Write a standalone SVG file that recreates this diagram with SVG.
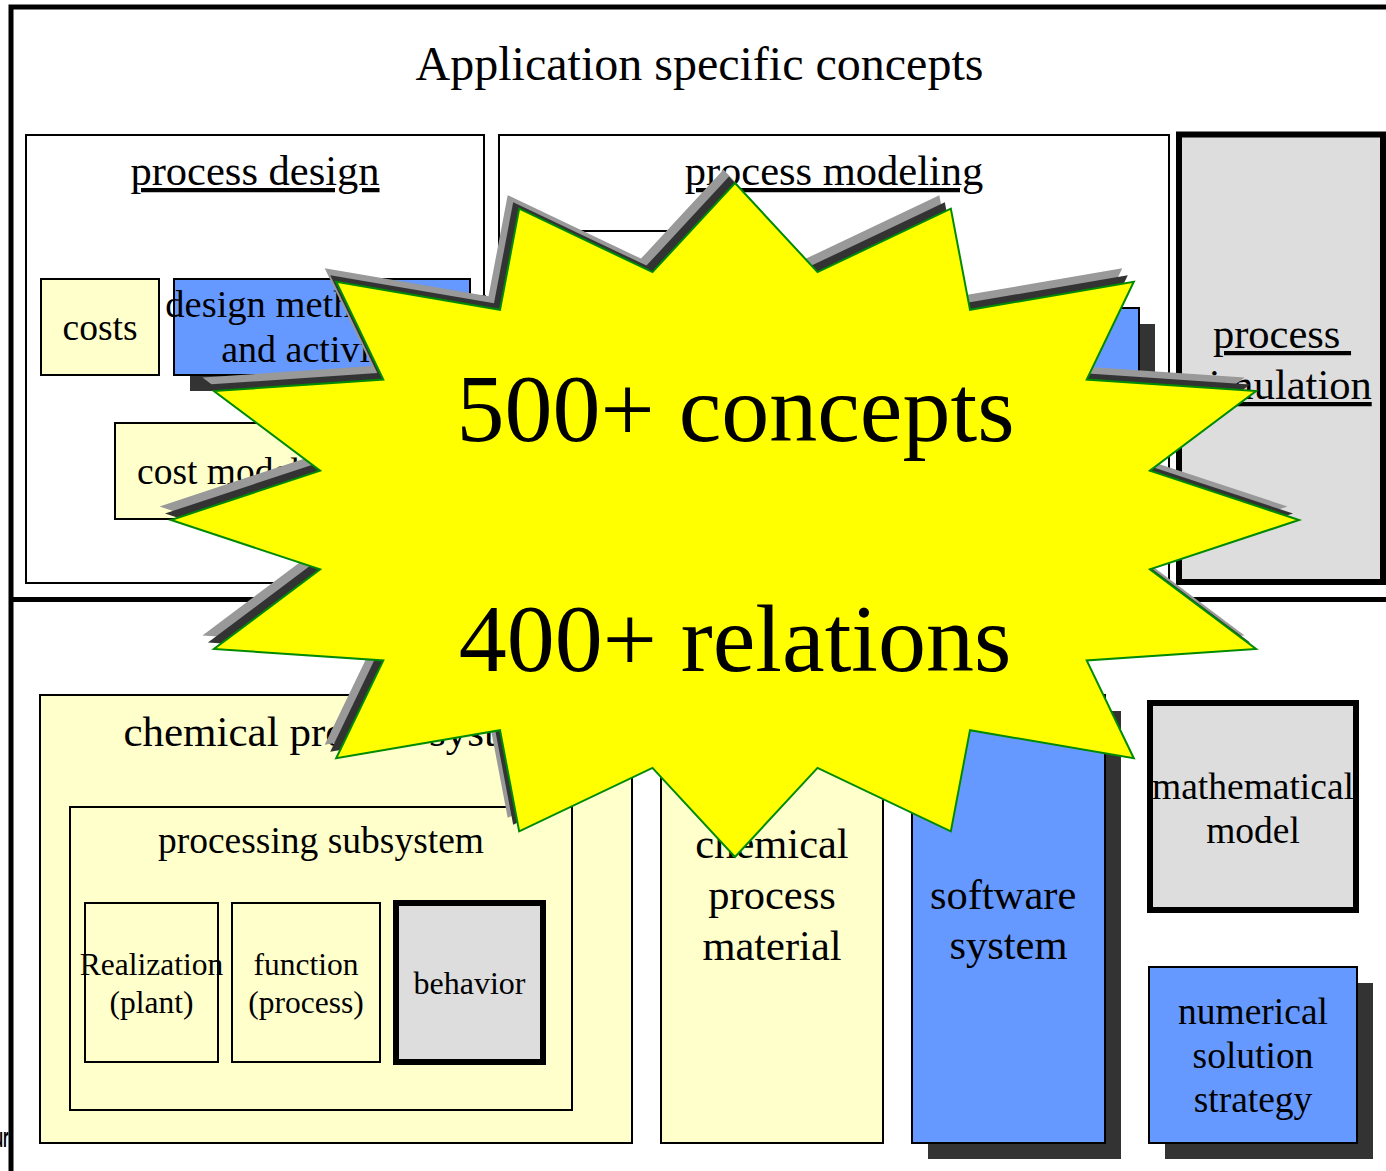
<svg xmlns="http://www.w3.org/2000/svg" width="1386" height="1171" viewBox="0 0 1386 1171">
  <style>
    text { font-family: "Liberation Serif", "Times New Roman", serif; fill: #000; }
    .c { text-anchor: middle; }
    .u { text-decoration: underline; }
    .box { stroke: #000; stroke-width: 2; }
    .heavy { stroke: #000; stroke-width: 6; }
    .white { fill: #FFFFFF; }
    .pale { fill: #FFFFCC; }
    .blue { fill: #6699FF; }
    .grey { fill: #DDDDDD; }
    .shade { fill: #333333; }
    .frame { fill: none; stroke: #000; stroke-width: 5; }
    .t48 { font-size: 48px; }
    .t42 { font-size: 42.5px; }
    .t37 { font-size: 37.5px; }
    .t32 { font-size: 31.5px; }
    .big { font-size: 96px; }
  </style>
  <defs>
    <!-- 16-point burst, center (735,520), radii 564 x 337, inner ratio 0.75 -->
    <polygon id="burst-shape" points="735,183 817.52,272.11 950.83,208.65 970.01,309.85 1133.81,281.7 1086.71,379.58 1256.07,391.04 1149.87,470.69 1299,520 1149.87,569.31 1256.07,648.96 1086.71,660.42 1133.81,758.3 970.01,730.15 950.83,831.35 817.52,767.89 735,857 652.48,767.89 519.17,831.35 499.99,730.15 336.19,758.3 383.29,660.42 213.93,648.96 320.13,569.31 171,520 320.13,470.69 213.93,391.04 383.29,379.58 336.19,281.7 499.99,309.85 519.17,208.65 652.48,272.11"/>
  </defs>

  <rect width="1386" height="1171" fill="#FFFFFF"/>

  <!-- outer frame: upper and lower sections -->
  <g id="frame">
    <path class="frame" d="M11,1171 V7 H1386"/>
    <line class="frame" x1="11" y1="599.5" x2="1386" y2="599.5"/>
    <text class="t48 c" x="699.5" y="80">Application specific concepts</text>
  </g>

  <!-- upper section -->
  <g id="process-design">
    <rect class="box white" x="26" y="135" width="458" height="448"/>
    <text class="t42 c u" x="255" y="185">process design</text>
  </g>

  <g id="costs">
    <rect class="box pale" x="41" y="279" width="118" height="96"/>
    <text class="t37 c" x="100" y="340">costs</text>
  </g>

  <g id="design-methodology">
    <rect class="shade" x="190" y="295" width="296" height="96"/>
    <rect class="box blue" x="174" y="279" width="296" height="96"/>
    <text class="c" style="font-size:38.5px" x="322" y="317">design methodology</text>
    <text class="c" style="font-size:38px" x="322" y="362">and activities</text>
  </g>

  <g id="cost-model">
    <rect class="box pale" x="115" y="423" width="247" height="96"/>
    <text class="t37" x="137" y="484">cost model</text>
  </g>

  <g id="process-modeling">
    <rect class="box white" x="499" y="135" width="670" height="448"/>
    <text class="t42 c u" x="834" y="185">process modeling</text>
  </g>

  <g id="modeling-inner">
    <rect class="box white" x="540" y="231" width="180" height="250"/>
  </g>

  <g id="modeling-tool">
    <rect class="shade" x="1016" y="324" width="139" height="92"/>
    <rect class="box blue" x="1000" y="308" width="139" height="92"/>
  </g>

  <g id="process-simulation">
    <rect class="heavy grey" x="1179" y="134.5" width="204" height="447.5"/>
    <text class="t42 c u" x="1282" y="348" xml:space="preserve">process </text>
    <text class="t42 c u" x="1282" y="399">simulation</text>
  </g>

  <!-- lower section -->
  <g id="chemical-process-system">
    <rect class="box pale" x="40" y="695" width="592" height="448"/>
    <text class="c" style="font-size:43px" x="336" y="746">chemical process system</text>
  </g>

  <g id="processing-subsystem">
    <rect class="box pale" x="70" y="807" width="502" height="303"/>
    <text class="t37 c" x="321" y="853">processing subsystem</text>
  </g>

  <g id="realization">
    <rect class="box pale" x="85" y="903" width="133" height="159"/>
    <text class="t32 c" x="151.5" y="975">Realization</text>
    <text class="t32 c" x="151.5" y="1013">(plant)</text>
  </g>

  <g id="function">
    <rect class="box pale" x="232" y="903" width="148" height="159"/>
    <text class="t32 c" x="306" y="975">function</text>
    <text class="t32 c" x="306" y="1013">(process)</text>
  </g>

  <g id="behavior">
    <rect class="heavy grey" x="396" y="903" width="147" height="159"/>
    <text class="c" style="font-size:32px" x="469.5" y="994">behavior</text>
  </g>

  <g id="chemical-process-material">
    <rect class="box pale" x="661" y="695" width="222" height="448"/>
    <text class="t42 c" x="772" y="858">chemical</text>
    <text class="t42 c" x="772" y="909">process</text>
    <text class="t42 c" x="772" y="960">material</text>
  </g>

  <g id="software-system">
    <rect class="shade" x="928" y="711" width="193" height="448"/>
    <rect class="box blue" x="912" y="695" width="193" height="448"/>
    <text class="t42 c" x="1008.5" y="909" xml:space="preserve">software </text>
    <text class="t42 c" x="1008.5" y="959">system</text>
  </g>

  <g id="mathematical-model">
    <rect class="heavy grey" x="1150" y="703" width="206" height="207"/>
    <text class="t37 c" x="1253" y="799">mathematical</text>
    <text class="t37 c" x="1253" y="843">model</text>
  </g>

  <g id="numerical-solution-strategy">
    <rect class="shade" x="1165" y="983" width="208" height="176"/>
    <rect class="box blue" x="1149" y="967" width="208" height="176"/>
    <text class="t37 c" x="1253" y="1024">numerical</text>
    <text class="t37 c" x="1253" y="1068">solution</text>
    <text class="t37 c" x="1253" y="1112">strategy</text>
  </g>

  <!-- label clipped by the left edge of the page -->
  <text transform="scale(0.5,1)" x="17" y="1147" style="font-family:'Liberation Sans',Arial,sans-serif;font-size:28px;font-weight:bold;text-anchor:end">ur</text>

  <!-- burst callout with two-tone offset shadow -->
  <g id="burst">
    <use href="#burst-shape" fill="#999999" transform="translate(-11.5,-13.5)"/>
    <use href="#burst-shape" fill="#333333" transform="translate(-6,-6.5)"/>
    <use href="#burst-shape" fill="#FFFF00" stroke="#008A00" stroke-width="2" stroke-linejoin="miter"/>
    <text class="big c" x="735.5" y="441">500+ concepts</text>
    <text class="big c" x="735" y="671">400+ relations</text>
  </g>
</svg>
